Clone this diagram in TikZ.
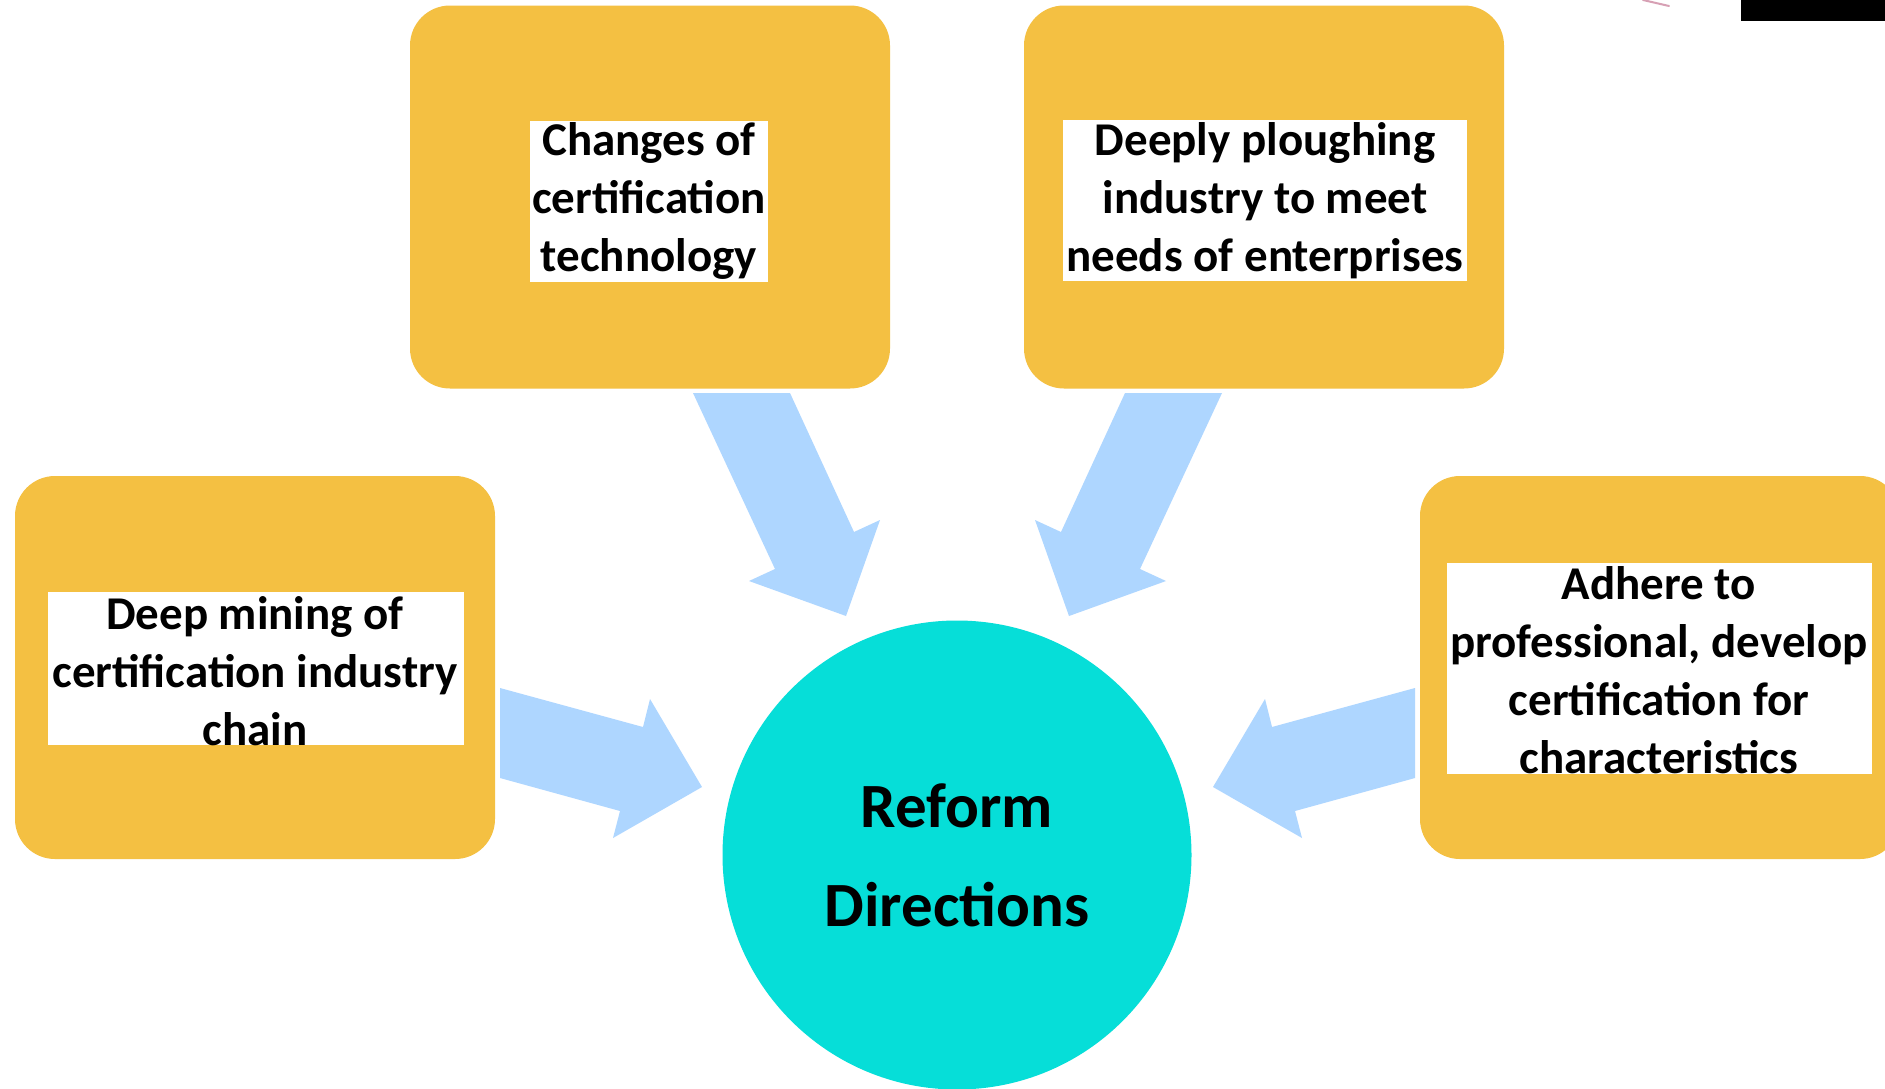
\documentclass[tikz,border=0pt]{standalone}
\usepackage{fontspec}
\setmainfont{Carlito}
\definecolor{boxorange}{RGB}{244,192,66}
\definecolor{arrowblue}{RGB}{174,214,255}
\definecolor{circcyan}{RGB}{6,222,216}
\definecolor{faintpink}{RGB}{215,160,180}
\begin{document}
\begin{tikzpicture}[x=1pt,y=-1pt,
  card/.style={fill=boxorange, rounded corners=40pt, draw=none, inner sep=0pt, minimum width=480pt, minimum height=383pt},
  blockarrow/.style={fill=arrowblue, draw=none},
  boxlabel/.style={font=\bfseries\fontsize{47}{58}\selectfont, align=center, text=black, inner sep=0pt},
  centerlabel/.style={font=\bfseries\fontsize{63}{99}\selectfont, align=center, text=black, inner sep=0pt}]
\useasboundingbox (0,0) rectangle (1885,1088);
\clip (0,0) rectangle (1885,1088);
\fill[white] (0,0) rectangle (1885,1088);

% orange cards
\node[card] (tl) at (650,197) {};
\node[card] (tr) at (1264,197) {};
\node[card] (lf) at (255,667.5) {};
\node[card] (rt) at (1660,667.5) {};

% white text panels with clipped text
\begin{scope}
\clip (530,121) rectangle (768,282);
\fill[white] (530,121) rectangle (768,282);
\node[boxlabel] (tlt) at (649,201) {Changes of\\certification\\technology};
\end{scope}
\begin{scope}
\clip (1063,120) rectangle (1467,281);
\fill[white] (1063,120) rectangle (1467,281);
\node[boxlabel] (trt) at (1265,201) {Deeply ploughing\\industry to meet\\needs of enterprises};
\end{scope}
\begin{scope}
\clip (48,592) rectangle (464,745);
\fill[white] (48,592) rectangle (464,745);
\node[boxlabel] (lft) at (255,671) {Deep mining of\\certification industry\\chain};
\end{scope}
\begin{scope}
\clip (1447,563) rectangle (1872,774);
\fill[white] (1447,563) rectangle (1872,774);
\node[boxlabel] (rtt) at (1659,670) {Adhere to\\professional, develop\\certification for\\characteristics};
\end{scope}

% block arrows
\fill[blockarrow] (693,393) -- (790,393) -- (854,532) -- (880,520) -- (846,616) -- (749,581) -- (775,569) -- cycle;
\fill[blockarrow] (1222,393) -- (1125,393) -- (1061,532) -- (1035,520) -- (1069,616) -- (1166,581) -- (1140,569) -- cycle;
\fill[blockarrow] (500,688) -- (643,727) -- (650,699) -- (702,787) -- (613,838) -- (620,811) -- (500,778) -- cycle;
\fill[blockarrow] (1415,688) -- (1272,727) -- (1265,699) -- (1213,787) -- (1302,838) -- (1295,811) -- (1415,778) -- cycle;

% central circle
\node[circle, fill=circcyan, draw=none, minimum size=469pt, inner sep=0pt] (rd) at (957,855) {};
\node[centerlabel] (rdt) at (957,855) {Reform\\Directions};

% corner artefacts
\fill[black] (1741,0) rectangle (1885,21);
\draw[faintpink, line width=2pt, line cap=round] (1643,0) -- (1669,6);
\end{tikzpicture}
\end{document}
